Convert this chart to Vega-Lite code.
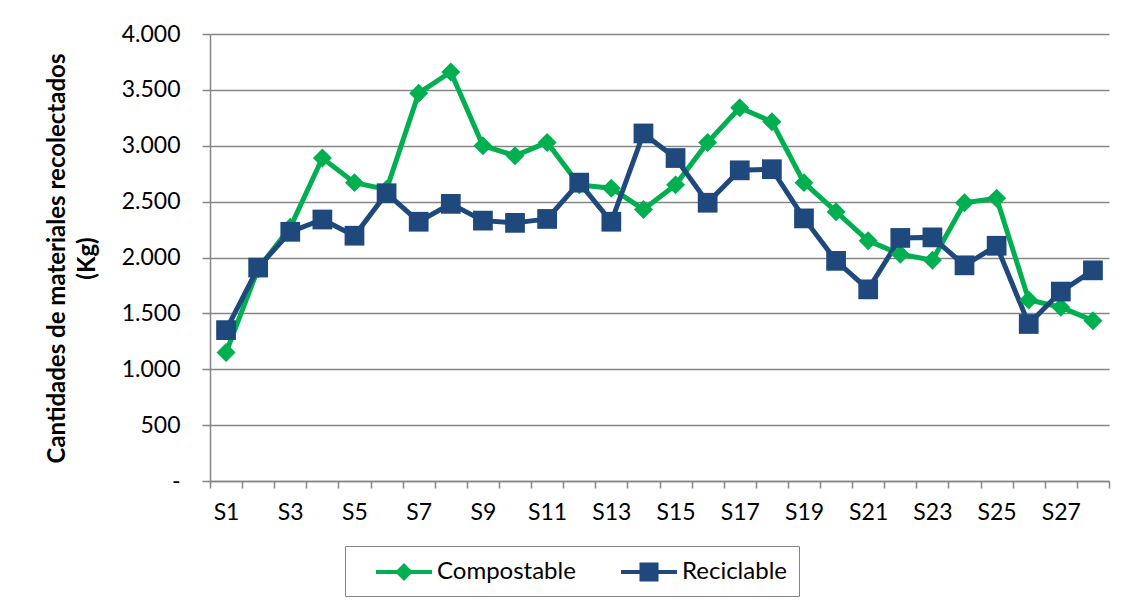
{
  "$schema": "https://vega.github.io/schema/vega-lite/v6.json",
  "autosize": "none",
  "width": 899,
  "height": 447,
  "padding": {"left": 210, "top": 34, "right": 19, "bottom": 128},
  "background": "white",
  "config": {
    "font": "Lato",
    "view": {"stroke": null},
    "axis": {
      "labelFont": "Lato",
      "labelFontSize": 23,
      "labelColor": "#000000",
      "domainColor": "#868686",
      "domainWidth": 1.5,
      "tickColor": "#868686",
      "tickWidth": 1.5,
      "gridColor": "#868686",
      "gridWidth": 1.5
    },
    "legend": {
      "labelFont": "Lato",
      "labelFontSize": 24,
      "labelColor": "#000000"
    }
  },
  "data": {
    "values": [
      {"s": "S1", "serie": "Compostable", "kg": 1150},
      {"s": "S2", "serie": "Compostable", "kg": 1900},
      {"s": "S3", "serie": "Compostable", "kg": 2270},
      {"s": "S4", "serie": "Compostable", "kg": 2890},
      {"s": "S5", "serie": "Compostable", "kg": 2670},
      {"s": "S6", "serie": "Compostable", "kg": 2610},
      {"s": "S7", "serie": "Compostable", "kg": 3470},
      {"s": "S8", "serie": "Compostable", "kg": 3660},
      {"s": "S9", "serie": "Compostable", "kg": 3000},
      {"s": "S10", "serie": "Compostable", "kg": 2910},
      {"s": "S11", "serie": "Compostable", "kg": 3030},
      {"s": "S12", "serie": "Compostable", "kg": 2650},
      {"s": "S13", "serie": "Compostable", "kg": 2620},
      {"s": "S14", "serie": "Compostable", "kg": 2430},
      {"s": "S15", "serie": "Compostable", "kg": 2650},
      {"s": "S16", "serie": "Compostable", "kg": 3030},
      {"s": "S17", "serie": "Compostable", "kg": 3340},
      {"s": "S18", "serie": "Compostable", "kg": 3215},
      {"s": "S19", "serie": "Compostable", "kg": 2670},
      {"s": "S20", "serie": "Compostable", "kg": 2410},
      {"s": "S21", "serie": "Compostable", "kg": 2150},
      {"s": "S22", "serie": "Compostable", "kg": 2030},
      {"s": "S23", "serie": "Compostable", "kg": 1975},
      {"s": "S24", "serie": "Compostable", "kg": 2490},
      {"s": "S25", "serie": "Compostable", "kg": 2530},
      {"s": "S26", "serie": "Compostable", "kg": 1620},
      {"s": "S27", "serie": "Compostable", "kg": 1555},
      {"s": "S28", "serie": "Compostable", "kg": 1435},
      {"s": "S1", "serie": "Reciclable", "kg": 1350},
      {"s": "S2", "serie": "Reciclable", "kg": 1910},
      {"s": "S3", "serie": "Reciclable", "kg": 2230},
      {"s": "S4", "serie": "Reciclable", "kg": 2340},
      {"s": "S5", "serie": "Reciclable", "kg": 2195},
      {"s": "S6", "serie": "Reciclable", "kg": 2575},
      {"s": "S7", "serie": "Reciclable", "kg": 2320},
      {"s": "S8", "serie": "Reciclable", "kg": 2480},
      {"s": "S9", "serie": "Reciclable", "kg": 2330},
      {"s": "S10", "serie": "Reciclable", "kg": 2310},
      {"s": "S11", "serie": "Reciclable", "kg": 2345},
      {"s": "S12", "serie": "Reciclable", "kg": 2670},
      {"s": "S13", "serie": "Reciclable", "kg": 2320},
      {"s": "S14", "serie": "Reciclable", "kg": 3110},
      {"s": "S15", "serie": "Reciclable", "kg": 2890},
      {"s": "S16", "serie": "Reciclable", "kg": 2490},
      {"s": "S17", "serie": "Reciclable", "kg": 2780},
      {"s": "S18", "serie": "Reciclable", "kg": 2790},
      {"s": "S19", "serie": "Reciclable", "kg": 2350},
      {"s": "S20", "serie": "Reciclable", "kg": 1970},
      {"s": "S21", "serie": "Reciclable", "kg": 1715},
      {"s": "S22", "serie": "Reciclable", "kg": 2175},
      {"s": "S23", "serie": "Reciclable", "kg": 2180},
      {"s": "S24", "serie": "Reciclable", "kg": 1930},
      {"s": "S25", "serie": "Reciclable", "kg": 2105},
      {"s": "S26", "serie": "Reciclable", "kg": 1405},
      {"s": "S27", "serie": "Reciclable", "kg": 1695},
      {"s": "S28", "serie": "Reciclable", "kg": 1885}
    ]
  },
  "encoding": {
    "x": {
      "field": "s",
      "type": "nominal",
      "sort": null,
      "bandPosition": 0.5,
      "scale": {"type": "band", "paddingInner": 0, "paddingOuter": 0},
      "axis": {
        "title": null,
        "labelAngle": 0,
        "tickBand": "extent",
        "tickSize": 7,
        "labelPadding": 13,
        "labelExpr": "parseInt(substring(datum.value, 1)) % 2 == 1 ? datum.value : ''"
      }
    },
    "y": {
      "field": "kg",
      "type": "quantitative",
      "scale": {"domain": [0, 4000], "nice": false},
      "axis": {
        "values": [0, 500, 1000, 1500, 2000, 2500, 3000, 3500, 4000],
        "tickSize": 8,
        "labelPadding": 22,
        "labelExpr": "datum.value === 0 ? '-\u00a0\u00a0\u00a0\u00a0\u00a0' : replace(format(datum.value, ','), ',', '.')",
        "title": ["Cantidades de materiales recolectados", "(Kg)"],
        "titleFont": "Lato",
        "titleFontSize": 24,
        "titleFontWeight": "bold",
        "titleColor": "#000000",
        "titleLineHeight": 30,
        "titleBaseline": "top",
        "titleAlign": "center",
        "titleAngle": -90,
        "titleX": -165,
        "titleY": 224
      }
    },
    "color": {
      "field": "serie",
      "type": "nominal",
      "scale": {"domain": ["Compostable", "Reciclable"], "range": ["#00B050", "#1F497D"]},
      "legend": {
        "title": null,
        "orient": "none",
        "direction": "horizontal",
        "legendX": 135,
        "legendY": 512,
        "padding": 12,
        "strokeColor": "#868686",
        "symbolSize": 784,
        "symbolStrokeWidth": 0,
        "symbolOpacity": 1,
        "symbolType": {"expr": "datum.value === 'Compostable' ? 'M0.357,-0.143L4.357,-0.143L4.357,0.143L0.357,0.143ZM1.717,0L2.357,-0.64L2.997,0L2.357,0.64Z' : 'M0.357,-0.143L4.357,-0.143L4.357,0.143L0.357,0.143ZM1.677,-0.68L3.037,-0.68L3.037,0.68L1.677,0.68Z'"},
        "labelOffset": 52,
        "columnPadding": 26
      }
    }
  },
  "layer": [
    {
      "mark": {"type": "line", "strokeWidth": 5}
    },
    {
      "transform": [{"filter": "datum.serie === 'Compostable'"}],
      "mark": {"type": "point", "filled": true, "opacity": 1, "size": 360, "shape": "diamond"}
    },
    {
      "transform": [{"filter": "datum.serie === 'Reciclable'"}],
      "mark": {"type": "point", "filled": true, "opacity": 1, "size": 390, "shape": "square"}
    }
  ]
}
